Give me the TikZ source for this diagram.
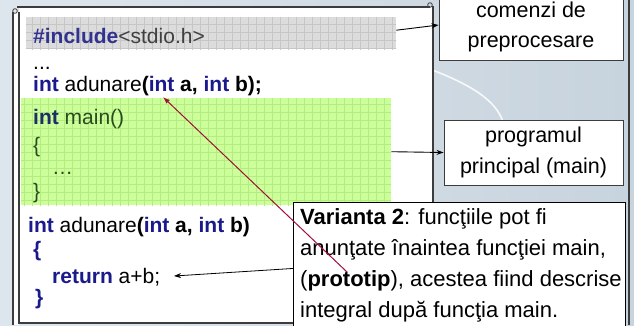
\documentclass[tikz,border=0pt]{standalone}
\usepackage{fontspec}
\setmainfont{Liberation Sans}
\usetikzlibrary{arrows.meta}
\definecolor{bgA}{HTML}{DEE6ED}
\definecolor{bgB}{HTML}{C7D3DD}
\definecolor{kwc}{HTML}{1A1A8C}
\definecolor{incblue}{HTML}{33338F}
\definecolor{incgrey}{HTML}{404040}
\definecolor{greyfill}{HTML}{DCDCDC}
\definecolor{greygrid}{HTML}{C6C6C6}
\definecolor{greenfill}{HTML}{CCFF99}
\definecolor{greengrid}{HTML}{B2EC82}
\definecolor{darkred}{HTML}{A0103A}
\definecolor{framec}{HTML}{3C3C3C}
\definecolor{gkw}{HTML}{1E2E66}
\definecolor{gtxt}{HTML}{2A4A20}
\newcommand\kwd[1]{\textcolor{kwc}{\textbf{#1}}}
\begin{document}
\begin{tikzpicture}[x=1pt,y=-1pt,
  code/.style={anchor=base west, inner sep=0pt, font=\fontsize{21}{25}\selectfont},
  labelbox/.style={draw=framec, fill=white, line width=0.9pt, align=center, inner sep=0pt},
  arr/.style={draw=black, line width=0.9pt, -{Stealth[length=7pt,width=5pt]}},
  frameline/.style={draw=framec, line width=1.1pt}]
\useasboundingbox (0,0) rectangle (634,325);
\clip (0,0) rectangle (634,325);
% background
\shade[left color=bgA, right color=bgB] (0,0) rectangle (634,325);
\draw[white, line width=1.6pt, opacity=.85] (427,68) .. controls (470,84) and (496,100) .. (503,122);
% scroll panel
\fill[white] (19,7) rectangle (433,323);
\fill[white] (13,12) rectangle (19,325);
\draw[frameline] (17,7) -- (430,7);
\draw[frameline] (433,6) -- (433,325);
\draw[frameline] (13,12) -- (13,325);
\draw[frameline] (19,12) -- (19,323) -- (433,323);
\draw[frameline, line width=0.8pt] (15,11) circle (2.3pt);
\draw[frameline, line width=0.8pt] (430,5) circle (2.3pt);
% right edge line
\draw[framec, line width=1.5pt] (629,0) -- (629,325);
% code boxes
\node[fill=greyfill, minimum width=370pt, minimum height=32pt, inner sep=0pt, anchor=north west] (inc) at (26,17) {};
\begin{scope}
\clip (26,17) rectangle (396,49);
\draw[greygrid, line width=0.5pt, xstep=8pt, ystep=8pt] (20,10) grid (400,55);
\end{scope}
\node[fill=greenfill, minimum width=370pt, minimum height=107pt, inner sep=0pt, anchor=north west] (mainbox) at (21,98) {};
\begin{scope}
\clip (21,98) rectangle (391,205);
\draw[greengrid, line width=0.5pt, xstep=8pt, ystep=8pt] (15,90) grid (400,210);
\end{scope}
% code text
\node[code] (l1) at (33,43) {\textcolor{incblue}{\textbf{\#include}}\textcolor{incgrey}{<stdio.h>}};
\node[code] (l2) at (33,69) {...};
\node[code] (l3) at (33,91) {\kwd{int} adunare\textbf{(\kwd{int} a, \kwd{int} b);}};
\node[code] (l4) at (33,124) {\textcolor{gkw}{\textbf{int}} \textcolor{gtxt}{main()}};
\node[code] (l5) at (33,152) {\textcolor{gtxt}{\{}};
\node[code] (l6) at (52,174) {\textcolor{gtxt}{…}};
\node[code] (l7) at (33,198) {\textcolor{gtxt}{\}}};
\node[code] (l8) at (28,232) {\kwd{int} adunare\textbf{(\kwd{int} a, \kwd{int} b)}};
\node[code] (l9) at (33,256) {\kwd{\{}};
\node[code] (l10) at (52,283) {\kwd{return} a+b;};
\node[code] (l11) at (35,304) {\kwd{\}}};
% label boxes
\node[labelbox, minimum width=184pt, minimum height=66pt, font=\fontsize{21.5}{30}\selectfont] (com) at (531,27) {comenzi de\\preprocesare};
\node[labelbox, minimum width=179pt, minimum height=65pt, font=\fontsize{21.5}{31}\selectfont] (prog) at (533.5,152.5) {programul\\principal (main)};
\draw[arr] ([yshift=3pt]inc.east) -- ([yshift=2pt]com.west);
\draw[arr] (mainbox.east) -- (prog.west);
% Varianta box
\node[draw=black, fill=white, line width=0.9pt, minimum width=332pt, minimum height=140pt, inner sep=0pt, anchor=north west] (var) at (293,202) {};
\node[anchor=north west, inner xsep=7pt, inner ysep=6pt, align=left, font=\fontsize{22}{31}\selectfont] (vartxt) at (var.north west) {\textbf{Varianta 2}: funcţiile pot fi\\anunţate înaintea funcţiei main,\\(\textbf{prototip}), acestea fiind descrise\\integral după funcţia main.};
\coordinate (retEnd) at (174,276);
\draw[draw=black, line width=0.8pt, -{Stealth[length=7pt,width=5pt]}] ([yshift=4pt]var.west) -- (retEnd);
\coordinate (redStart) at (347,272);
\coordinate (protoTip) at (163,97);
\draw[darkred, line width=1pt, -{Latex[length=7pt,width=5pt]}] (redStart) -- (protoTip);
\end{tikzpicture}
\end{document}
